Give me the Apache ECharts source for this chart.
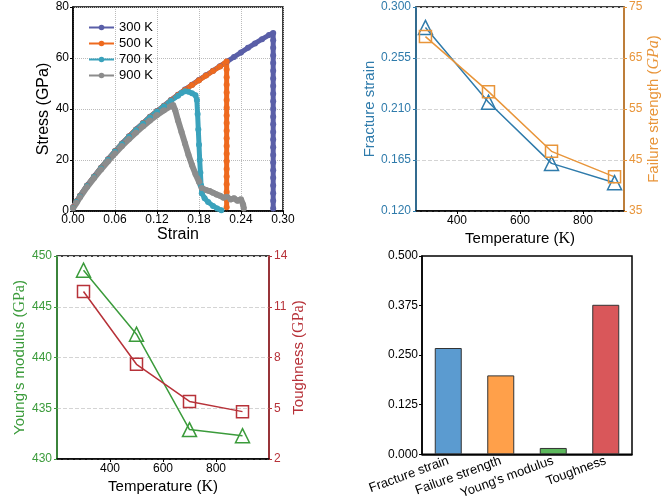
<!DOCTYPE html>
<html>
<head>
<meta charset="utf-8">
<script src="https://cdn.jsdelivr.net/npm/echarts@6/dist/echarts.min.js"></script>
<style>html,body{margin:0;padding:0;background:#fff}#main{width:672px;height:501px}</style>
</head>
<body>
<div id="main"></div>
<script>
// stress-strain curves
var strain300 = [0, 0.005, 0.01, 0.02, 0.03, 0.04, 0.05, 0.06, 0.07, 0.08, 0.09, 0.10, 0.11, 0.12, 0.13, 0.14, 0.15, 0.16, 0.17, 0.18, 0.19, 0.20, 0.21, 0.22, 0.23, 0.24, 0.25, 0.26, 0.27, 0.28, 0.286,
    0.286, 0.286, 0.286, 0.286, 0.286, 0.286, 0.286, 0.286, 0.286, 0.286, 0.286, 0.286, 0.286, 0.286, 0.286, 0.286, 0.286, 0.286, 0.286, 0.286, 0.286, 0.286, 0.286];
var stress300 = [1.5, 3.8, 6.0, 10.0, 13.5, 17.0, 20.3, 23.5, 26.5, 29.3, 32.0, 34.5, 37.0, 39.2, 41.3, 43.5, 45.6, 47.6, 49.5, 51.4, 53.2, 55.0, 56.8, 58.6, 60.4, 62.2, 64.0, 65.7, 67.4, 69.0, 69.8,
    67, 64, 61, 58, 55, 52, 49, 46, 43, 40, 37, 34, 31, 28, 25, 22, 19, 16, 13, 10, 7, 4, 1];

var strain500 = [0, 0.005, 0.01, 0.02, 0.03, 0.04, 0.05, 0.06, 0.07, 0.08, 0.09, 0.10, 0.11, 0.12, 0.13, 0.14, 0.15, 0.16, 0.17, 0.18, 0.19, 0.20, 0.21, 0.2195,
    0.2195, 0.2195, 0.2195, 0.2195, 0.2195, 0.2195, 0.2195, 0.2195, 0.2195, 0.2195, 0.2195, 0.2195, 0.2195, 0.2195, 0.2195, 0.2195, 0.2195, 0.2195, 0.2195];
var stress500 = [1.4, 3.7, 5.9, 9.9, 13.4, 16.9, 20.2, 23.4, 26.4, 29.2, 31.9, 34.4, 36.9, 39.1, 41.2, 43.4, 45.5, 47.5, 49.4, 51.3, 53.1, 54.9, 56.7, 58.6,
    55.5, 52.5, 49.5, 46.5, 43.5, 40.5, 37.5, 34.5, 31.5, 28.5, 25.5, 22.5, 19.5, 16.5, 13.5, 10.5, 7.5, 4.5, 1.5];

var strain700 = [0, 0.005, 0.01, 0.02, 0.03, 0.04, 0.05, 0.06, 0.07, 0.08, 0.09, 0.10, 0.11, 0.12, 0.13, 0.14, 0.15, 0.155, 0.16, 0.165, 0.17, 0.175,
    0.177, 0.178, 0.179, 0.18, 0.181, 0.182, 0.183, 0.184, 0.188, 0.193, 0.2, 0.206, 0.212];
var stress700 = [1.2, 3.6, 5.8, 9.8, 13.3, 16.8, 20.1, 23.3, 26.3, 29.1, 31.8, 34.3, 36.8, 39.0, 41.1, 43.2, 45.2, 46.3, 47.0, 46.8, 46.2, 45.4,
    43.5, 38, 32, 26, 20, 15, 10, 7, 5, 3.5, 2, 1, 0.3];

var strain900 = [0, 0.005, 0.01, 0.02, 0.03, 0.04, 0.05, 0.06, 0.07, 0.08, 0.09, 0.10, 0.11, 0.12, 0.13, 0.14, 0.143, 0.146, 0.15, 0.155, 0.16, 0.165, 0.17, 0.175, 0.18, 0.184,
    0.19, 0.195, 0.2, 0.205, 0.21, 0.215, 0.22, 0.225, 0.23, 0.235, 0.24, 0.243, 0.244];
var stress900 = [1.0, 3.2, 5.4, 9.4, 12.9, 16.3, 19.5, 22.6, 25.5, 28.2, 30.8, 33.2, 35.5, 37.6, 39.5, 41.2, 41.6, 39.5, 35.5, 31, 26.5, 22, 18, 14.5, 11.5, 9,
    8.2, 7.8, 7.2, 6.5, 6, 5.2, 5.6, 4.5, 5, 4, 4.6, 2.5, 1];

// temperature dependence
var temps = [300, 500, 700, 900];
var fractureStrain = [0.282, 0.216, 0.162, 0.145];
var failureStrength = [69.2, 58.4, 46.7, 41.7];
var youngsModulus = [448.6, 442.3, 432.9, 432.3];
var toughness = [11.9, 7.6, 5.4, 4.8];

// bar panel
var barNames = ['Fracture strain', 'Failure strength', "Young's modulus", 'Toughness'];
var barValues = [0.268, 0.199, 0.016, 0.377];
var barColors = ['#5b9bd0', '#ffa04a', '#5cb85c', '#d9575a'];

var font = 'Liberation Sans, Arial, sans-serif';
var blue = '#2f7bab', orange = '#e8953a', green = '#3b9b3b', red = '#b73239';

function pairs(xs, ys) {
    return xs.map(function (x, i) { return [x, ys[i]]; });
}

// axis title with a serif unit part
function richName(color, italic) {
    return {
        n: { fontFamily: font, fontSize: 15, color: color },
        s: { fontFamily: 'Liberation Serif, serif', fontSize: 16, color: color, fontStyle: italic ? 'italic' : 'normal' }
    };
}

var myChart = echarts.init(document.getElementById('main'));

var option = {
    backgroundColor: '#fff',
    textStyle: { fontFamily: font },
    grid: [
        { left: 73, top: 7, width: 210, height: 204, show: true, borderColor: '#000', borderWidth: 1.5 },
        { left: 416, top: 7, width: 208, height: 204, show: true, borderColor: '#000', borderWidth: 1.5 },
        { left: 57, top: 256, width: 212, height: 203, show: true, borderColor: '#000', borderWidth: 1.5 },
        { left: 422, top: 256, width: 210, height: 203, show: true, borderColor: '#000', borderWidth: 1.5 }
    ],
    legend: {
        data: ['300 K', '500 K', '700 K', '900 K'],
        orient: 'vertical',
        left: 83, top: 16,
        itemWidth: 25, itemHeight: 7, itemGap: 3,
        lineStyle: { width: 2 },
        textStyle: { fontSize: 13, color: '#000', fontFamily: font }
    },
    xAxis: [
        {
            gridIndex: 0, type: 'value', min: 0, max: 0.3, interval: 0.06,
            name: 'Strain', nameLocation: 'middle', nameGap: 14,
            nameTextStyle: { fontSize: 16, color: '#000', fontFamily: font },
            axisLine: { onZero: false, lineStyle: { color: '#000', width: 1.5 } },
            axisTick: { length: 3, lineStyle: { color: '#000' } },
            axisLabel: { color: '#000', fontSize: 12, margin: 3, formatter: function (v) { return v.toFixed(2); } },
            splitLine: { show: true, lineStyle: { type: 'dotted', color: '#bbb' } }
        },
        {
            gridIndex: 1, type: 'value', min: 270, max: 930,
            name: '{n|Temperature (}{s|K}{n|)}', nameLocation: 'middle', nameGap: 20,
            nameTextStyle: { fontSize: 15, color: '#000', fontFamily: font, rich: richName('#000') },
            axisLine: { onZero: false, lineStyle: { color: '#000', width: 1.5 } },
            axisTick: { length: 3, customValues: [400, 600, 800], lineStyle: { color: '#000' } },
            axisLabel: { color: '#000', fontSize: 12, margin: 4, customValues: [400, 600, 800] },
            splitLine: { show: false }
        },
        {
            gridIndex: 2, type: 'value', min: 200, max: 1000,
            name: '{n|Temperature (}{s|K}{n|)}', nameLocation: 'middle', nameGap: 20,
            nameTextStyle: { fontSize: 15, color: '#000', fontFamily: font, rich: richName('#000') },
            axisLine: { onZero: false, lineStyle: { color: '#000', width: 1.5 } },
            axisTick: { length: 3, customValues: [400, 600, 800], lineStyle: { color: '#000' } },
            axisLabel: { color: '#000', fontSize: 12, margin: 4, customValues: [400, 600, 800] },
            splitLine: { show: false }
        },
        {
            gridIndex: 3, type: 'category', data: barNames,
            axisLine: { lineStyle: { color: '#000', width: 1.5 } },
            axisTick: { alignWithLabel: true, inside: true, length: 4, lineStyle: { color: '#000' } },
            axisLabel: { color: '#000', fontSize: 13, rotate: 20, margin: 6, interval: 0 }
        }
    ],
    yAxis: [
        {
            gridIndex: 0, type: 'value', min: 0, max: 80, interval: 20,
            name: 'Stress (GPa)', nameLocation: 'middle', nameGap: 16, nameRotate: 90,
            nameTextStyle: { fontSize: 16, color: '#000', fontFamily: font },
            axisLine: { show: true, onZero: false, lineStyle: { color: '#000', width: 1.5 } },
            axisTick: { show: true, length: 3, lineStyle: { color: '#000' } },
            axisLabel: { color: '#000', fontSize: 12, margin: 4 },
            splitLine: { show: true, lineStyle: { type: 'dotted', color: '#bbb' } }
        },
        {
            gridIndex: 1, type: 'value', min: 0.12, max: 0.30, position: 'left',
            name: 'Fracture strain', nameLocation: 'middle', nameGap: 34, nameRotate: 90,
            nameTextStyle: { fontSize: 15, color: blue, fontFamily: font },
            axisLine: { show: true, onZero: false, lineStyle: { color: blue, width: 1.5 } },
            axisTick: { show: true, length: 3, customValues: [0.12, 0.165, 0.21, 0.255, 0.30], lineStyle: { color: blue } },
            axisLabel: { color: blue, fontSize: 12, margin: 5, customValues: [0.12, 0.165, 0.21, 0.255, 0.30],
                formatter: function (v) { return v.toFixed(3); } },
            splitLine: { show: true, lineStyle: { type: 'dashed', color: '#d4d4d4' } }
        },
        {
            gridIndex: 1, type: 'value', min: 35, max: 75, position: 'right',
            name: '{n|Failure strength (}{s|GPa}{n|)}', nameLocation: 'middle', nameGap: 22, nameRotate: 90,
            nameTextStyle: { fontSize: 15, color: orange, fontFamily: font, rich: richName(orange, true) },
            axisLine: { show: true, onZero: false, lineStyle: { color: orange, width: 1.5 } },
            axisTick: { show: true, length: 3, customValues: [35, 45, 55, 65, 75], lineStyle: { color: orange } },
            axisLabel: { color: orange, fontSize: 12, margin: 5, customValues: [35, 45, 55, 65, 75] },
            splitLine: { show: false }
        },
        {
            gridIndex: 2, type: 'value', min: 430, max: 450, interval: 5, position: 'left',
            name: "{n|Young's modulus (}{s|GPa}{n|)}", nameLocation: 'middle', nameGap: 29, nameRotate: 90,
            nameTextStyle: { fontSize: 15, color: green, fontFamily: font, rich: richName(green) },
            axisLine: { show: true, onZero: false, lineStyle: { color: green, width: 1.5 } },
            axisTick: { show: true, length: 3, lineStyle: { color: green } },
            axisLabel: { color: green, fontSize: 12, margin: 5 },
            splitLine: { show: true, lineStyle: { type: 'dashed', color: '#d4d4d4' } }
        },
        {
            gridIndex: 2, type: 'value', min: 2, max: 14, position: 'right',
            name: '{n|Toughness (}{s|GPa}{n|)}', nameLocation: 'middle', nameGap: 16, nameRotate: 90,
            nameTextStyle: { fontSize: 15, color: red, fontFamily: font, rich: richName(red) },
            axisLine: { show: true, onZero: false, lineStyle: { color: red, width: 1.5 } },
            axisTick: { show: true, length: 3, customValues: [2, 5, 8, 11, 14], lineStyle: { color: red } },
            axisLabel: { color: red, fontSize: 12, margin: 5, customValues: [2, 5, 8, 11, 14] },
            splitLine: { show: false }
        },
        {
            gridIndex: 3, type: 'value', min: 0, max: 0.5, interval: 0.125,
            axisLine: { show: true, onZero: false, lineStyle: { color: '#000', width: 1.5 } },
            axisTick: { show: true, length: 3, lineStyle: { color: '#000' } },
            axisLabel: { color: '#000', fontSize: 12, margin: 4, formatter: function (v) { return v.toFixed(3); } },
            splitLine: { show: false }
        }
    ],
    series: [
        { name: '300 K', type: 'line', xAxisIndex: 0, yAxisIndex: 0, data: pairs(strain300, stress300),
          symbol: 'circle', symbolSize: 6, color: '#5a5fa8', lineStyle: { width: 5 } },
        { name: '500 K', type: 'line', xAxisIndex: 0, yAxisIndex: 0, data: pairs(strain500, stress500),
          symbol: 'circle', symbolSize: 6, color: '#ee6a1f', lineStyle: { width: 5 } },
        { name: '700 K', type: 'line', xAxisIndex: 0, yAxisIndex: 0, data: pairs(strain700, stress700),
          symbol: 'circle', symbolSize: 6, color: '#3aa2bc', lineStyle: { width: 5 } },
        { name: '900 K', type: 'line', xAxisIndex: 0, yAxisIndex: 0, data: pairs(strain900, stress900),
          symbol: 'circle', symbolSize: 6, color: '#8c8c8c', lineStyle: { width: 6 } },

        { name: 'Fracture strain', type: 'line', xAxisIndex: 1, yAxisIndex: 1, data: pairs(temps, fractureStrain),
          symbol: 'triangle', symbolSize: 14,
          itemStyle: { color: 'rgba(255,255,255,0)', borderColor: blue, borderWidth: 1.5 },
          lineStyle: { color: blue, width: 1.5 } },
        { name: 'Failure strength', type: 'line', xAxisIndex: 1, yAxisIndex: 2, data: pairs(temps, failureStrength),
          symbol: 'rect', symbolSize: 12,
          itemStyle: { color: 'rgba(255,255,255,0)', borderColor: orange, borderWidth: 1.5 },
          lineStyle: { color: orange, width: 1.5 } },

        { name: "Young's modulus", type: 'line', xAxisIndex: 2, yAxisIndex: 3, data: pairs(temps, youngsModulus),
          symbol: 'triangle', symbolSize: 14,
          itemStyle: { color: 'rgba(255,255,255,0)', borderColor: green, borderWidth: 1.5 },
          lineStyle: { color: green, width: 1.5 } },
        { name: 'Toughness', type: 'line', xAxisIndex: 2, yAxisIndex: 4, data: pairs(temps, toughness),
          symbol: 'rect', symbolSize: 12,
          itemStyle: { color: 'rgba(255,255,255,0)', borderColor: red, borderWidth: 1.5 },
          lineStyle: { color: red, width: 1.5 } },

        { name: 'Change', type: 'bar', xAxisIndex: 3, yAxisIndex: 5, barWidth: 27,
          data: barValues.map(function (v, i) {
              return { value: v, itemStyle: { color: barColors[i] } };
          }),
          itemStyle: { borderColor: '#333', borderWidth: 1 } }
    ]
};

myChart.setOption(option);
</script>
</body>
</html>
